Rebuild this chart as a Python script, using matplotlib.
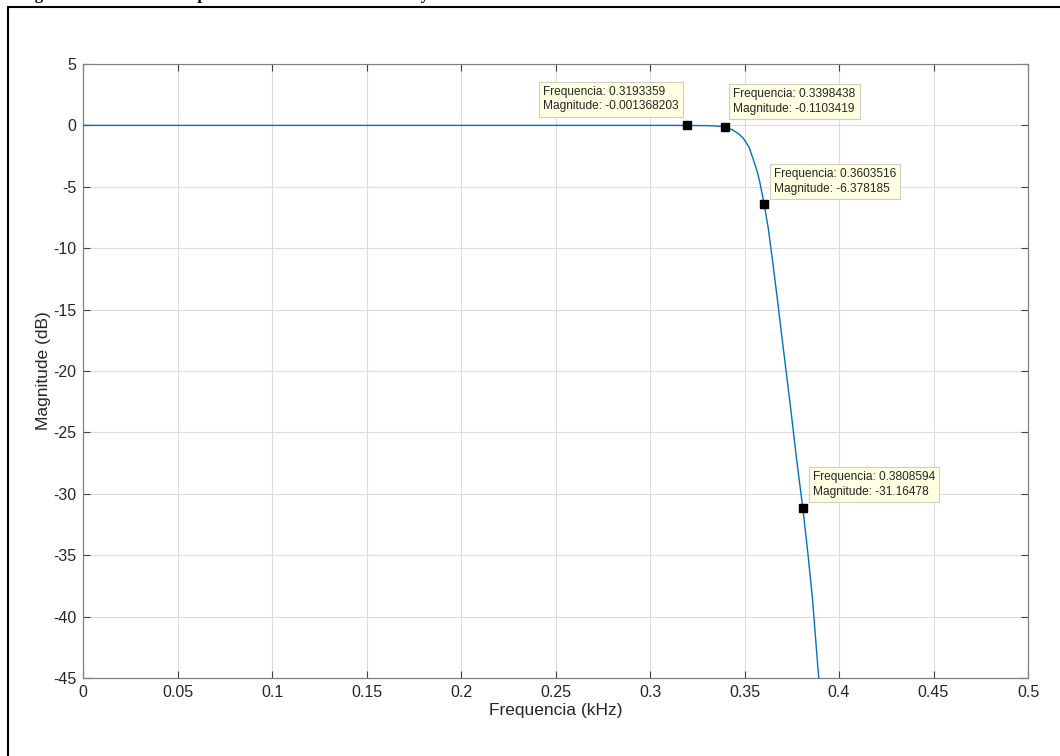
import matplotlib
matplotlib.use("Agg")
from matplotlib import pyplot as plt
from matplotlib.patches import Rectangle

# magnitude response of the low-pass filter (kHz, dB)
freq = [0.0, 0.1, 0.2, 0.3, 0.3193359, 0.33, 0.335, 0.3398438, 0.3441, 0.347,
        0.3494, 0.3525, 0.3547, 0.3568, 0.3582, 0.3603516, 0.3625, 0.365, 0.3675,
        0.37, 0.3725, 0.375, 0.3775, 0.3808594, 0.3835, 0.386, 0.389, 0.392]
mag = [0.0, 0.0, 0.0, 0.0, -0.001368203, -0.02, -0.05, -0.1103419, -0.4, -0.7,
       -1.05, -1.8, -2.8, -3.8, -4.7, -6.378185, -8.3, -11.2, -14.3,
       -17.5, -20.6, -23.8, -27.1, -31.16478, -34.8, -38.6, -44.5, -49.5]

# data tips: frequency, magnitude, text anchor offset in pixels
tip_freq = [0.3193359, 0.3398438, 0.3603516, 0.3808594]
tip_mag = [-0.001368203, -0.1103419, -6.378185, -31.16478]
tip_freq_txt = ["0.3193359", "0.3398438", "0.3603516", "0.3808594"]
tip_mag_txt = ["-0.001368203", "-0.1103419", "-6.378185", "-31.16478"]
tip_offset = [(-8, 13), (8, 12), (10, 9), (10, 10)]
tip_ha = ["right", "left", "left", "left"]

xticks = [0, 0.05, 0.1, 0.15, 0.2, 0.25, 0.3, 0.35, 0.4, 0.45, 0.5]
xticklabels = ["0", "0.05", "0.1", "0.15", "0.2", "0.25", "0.3", "0.35", "0.4", "0.45", "0.5"]
yticks = [5, 0, -5, -10, -15, -20, -25, -30, -35, -40, -45]

plt.rcParams['font.family'] = ['Liberation Sans', 'DejaVu Sans']
plt.rcParams['axes.unicode_minus'] = False

fig = plt.figure(figsize=(10.6, 7.56), dpi=100)
ax = fig.add_axes([83 / 1060, 78 / 756, 945 / 1060, 614 / 756])

ax.plot(freq, mag, color='#0072BD', lw=1.0, zorder=3)
ax.plot(tip_freq, tip_mag, ls='none', marker='s', ms=6, color='black', zorder=4)

for f, m, ft, mt, off, ha in zip(tip_freq, tip_mag, tip_freq_txt, tip_mag_txt, tip_offset, tip_ha):
    ax.annotate("Frequencia: " + ft + "\nMagnitude: " + mt, xy=(f, m),
                xytext=off, textcoords='offset pixels', ha=ha, va='bottom',
                multialignment='left', fontsize=8.6, color='#262626',
                linespacing=1.3, zorder=5,
                bbox=dict(boxstyle='square,pad=0.35', fc='#FFFFE1', ec='#CFCFC0', lw=0.8))

ax.set_xlim(0, 0.5)
ax.set_ylim(-45, 5)
ax.set_xticks(xticks)
ax.set_xticklabels(xticklabels)
ax.set_yticks(yticks)
ax.grid(True, color='#DCDCDC', lw=0.8)
ax.set_axisbelow(True)
ax.tick_params(direction='in', length=5, width=0.8, color='#404040',
               top=True, right=True, labelsize=11.5, labelcolor='#262626', pad=5)
for s in ax.spines.values():
    s.set_color('#808080')
    s.set_linewidth(0.9)

ax.set_xlabel("Frequencia (kHz)", fontsize=12.5, color='#262626', labelpad=2)
ax.set_ylabel("Magnitude (dB)", fontsize=12.5, color='#262626', labelpad=1)

# caption line sitting above the frame, mostly cropped
fig.text(20 / 1060, 1 + 1 / 756, "Figura 1 \u2013 Gráfico da resposta em módulo do filtro Chebyshev",
         fontsize=12, fontweight='bold', family=['Liberation Serif', 'DejaVu Serif'],
         ha='left', va='baseline')

# frame around the figure
fig.add_artist(Rectangle((8 / 1060, -0.1), 1.2, 0.1 + 749 / 756, transform=fig.transFigure,
                         fill=False, lw=1.5, ec='black'))

plt.savefig("out.png", dpi=100)
